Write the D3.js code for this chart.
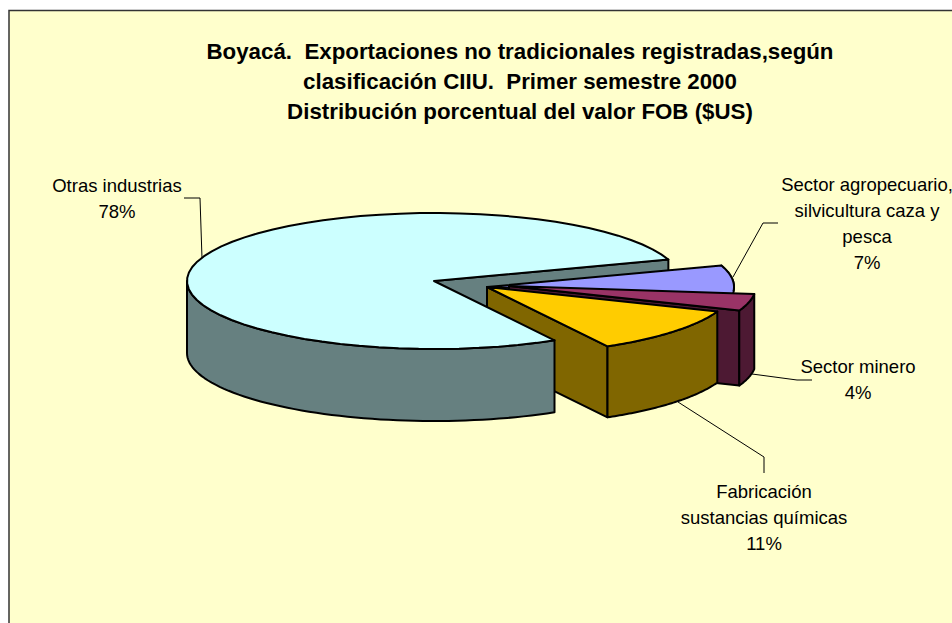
<!DOCTYPE html>
<html><head><meta charset="utf-8">
<style>html,body{margin:0;padding:0;background:#fff}svg{display:block}text{font-family:"Liberation Sans",Arial,sans-serif;fill:#000}</style>
<script src="https://cdn.jsdelivr.net/npm/d3@7"></script></head>
<body><script>
const titleLines = ["Boyacá.  Exportaciones no tradicionales registradas,según","clasificación CIIU.  Primer semestre 2000","Distribución porcentual del valor FOB ($US)"];
const categories = ["Otras industrias","Sector agropecuario, silvicultura caza y pesca","Sector minero","Fabricación sustancias químicas"];
const values = [78,7,4,11];
const topColors = ["#CCFFFF","#9999FF","#993366","#FFCC00"];
const sideColors = ["#668080","#4D4D80","#4D1933","#806600"];
const offsets = [[0,0],[53,6],[75,5],[53,6]];
const depths = [72,72,75,71];
const labelLines = [["Otras industrias","78%"],["Sector agropecuario,","silvicultura caza y","pesca","7%"],["Sector minero","4%"],["Fabricación","sustancias químicas","11%"]];
const labelPos = [[117,192],[867,191],[858,373],[764,498]];
const leaders = [[[184,198],[200,198],[202,258]],[[778,223],[763,223],[733,277]],[[812,380],[797,380],[752,374]],[[678,402],[764,457],[764,473]]];

const W=952,H=623, cx=434, cy=281, rx=247, ry=68;
const svg=d3.select("body").append("svg").attr("width",W).attr("height",H);
svg.append("rect").attr("x",9).attr("y",10.5).attr("width",W+20).attr("height",H+20).attr("fill","#FFFFCC").attr("stroke","#333").attr("stroke-width",1.5);

const title=svg.append("g");
titleLines.forEach((t,i)=>title.append("text").attr("x",520).attr("y",[59,89,119][i]).attr("text-anchor","middle").attr("font-size",22.3).attr("font-weight","bold").style("white-space","pre").text(t));

// pie layout, clockwise from 12 o'clock
const start=150.8*Math.PI/180;
const arcs=d3.pie().sort(null).startAngle(start).endAngle(start+2*Math.PI)(values);
const line=d3.line();
const proj=(i,a,dy=0)=>[cx+offsets[i][0]+rx*Math.sin(a), cy+offsets[i][1]-ry*Math.cos(a)+dy];
const apex=(i,dy=0)=>[cx+offsets[i][0], cy+offsets[i][1]+dy];
const rim=(i,a0,a1,dy=0)=>d3.range(0,61).map(k=>proj(i,a0+(a1-a0)*k/60,dy));
const g=svg.append("g").attr("stroke","#000").attr("stroke-width",2).attr("stroke-linejoin","round");
const poly=(pts,fill)=>g.append("path").attr("d",line(pts)+"Z").attr("fill",fill);
const wallCut=(i,a)=>poly([apex(i),proj(i,a),proj(i,a,depths[i]),apex(i,depths[i])],sideColors[i]);
const wallRim=(i,a0,a1)=>poly([...rim(i,a0,a1),...rim(i,a1,a0,depths[i])],sideColors[i]);
const face=i=>poly([apex(i),...rim(i,arcs[i].startAngle,arcs[i].endAngle)],topColors[i]);

wallCut(0,arcs[0].endAngle);
// agro
wallRim(1,arcs[1].startAngle,arcs[1].endAngle);
face(1);
// minero
wallCut(2,arcs[2].endAngle);
wallRim(2,arcs[2].startAngle,arcs[2].endAngle);
face(2);
// the large slice covers the cut wall of the chemical slice
wallCut(3,arcs[3].endAngle);
wallRim(0,arcs[0].startAngle,Math.PI*1.5);
face(0);
// fabricacion
wallRim(3,arcs[3].startAngle,arcs[3].endAngle);
face(3);

const lg=svg.append("g").attr("fill","none").attr("stroke","#000").attr("stroke-width",1);
leaders.forEach(l=>lg.append("path").attr("d",line(l)));
labelLines.forEach((ls,i)=>ls.forEach((t,k)=>svg.append("text").attr("x",labelPos[i][0]).attr("y",labelPos[i][1]+k*26).attr("text-anchor","middle").attr("font-size",18.5).text(t)));
</script></body></html>
